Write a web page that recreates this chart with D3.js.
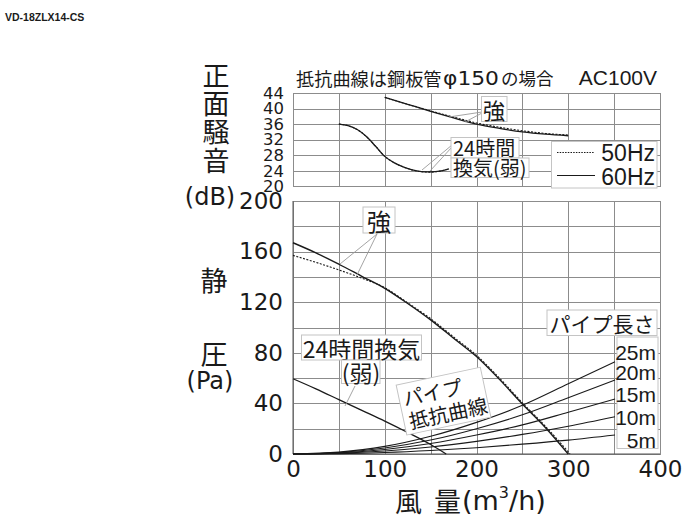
<!DOCTYPE html>
<html><head><meta charset="utf-8">
<script src="https://cdn.jsdelivr.net/npm/d3@7"></script>
<style>
body{margin:0;background:#fff;}
svg{display:block;}
</style></head><body>
<svg id="c" width="700" height="521"></svg>
<script>
// ---------- data ----------
const flowGrid = [0,50,100,150,200,250,300,350,400];
const flowLabels = [0,100,200,300,400];
const pressureGrid = [0,20,40,60,80,100,120,140,160,180,200];
const pressureLabels = [0,40,80,120,160,200];
const noiseTicks = [20,24,28,32,36,40,44];

// static pressure (Pa) vs flow (m3/h)
const strong60Q = [0,25,50,75,100,125,150,175,200,225,250,275,300];
const strong60P = [167,159,150,140.5,131,119,106,91.5,77,59,39.5,21,0];
const strong50Q = [0,25,50,75,100,125,150,175,200,225,250,275,302];
const strong50P = [157,151.5,145.5,139,131.5,119.5,107,92.5,78,60,40.5,22,0];
const weakQ = [0,25,50,75,100,125,150,167];
const weakP = [59.5,51.5,43,34.5,26,17,7.5,0];

// pipe resistance curves
const pipeQ = [0,50,100,150,200,250,300,351];
const pipe25 = [0,1.5,6,14,25,38.5,55.5,73];
const pipe20 = [0,1.2,4.8,11,20,31,44.5,58.5];
const pipe15 = [0,0.9,3.6,8.3,15,23,33,43.5];
const pipe10 = [0,0.6,2.4,5.5,10,15.5,22,29.5];
const pipe5  = [0,0.3,1.2,2.8,5,7.8,11,15];
const pipeNames = ["25m","20m","15m","10m","5m"];

// noise (dB) vs flow
const nStrongQ = [100,125,150,175,200,225,250,275,300];
const nStrong60 = [42.9,41.1,39.3,37.6,36.0,34.9,34.0,33.4,33.0];
const nStrong50 = [42.9,41.1,39.4,37.8,36.3,35.2,34.3,33.6,33.2];
const nWeakQ = [50,60,70,80,90,100,110,120,130,140,150,160,170];
const nWeak60 = [36,35.6,34.6,32.8,30.3,27.7,26.1,25,24.2,23.8,23.7,23.9,24.5];
const nWeak50 = [36,35.6,34.6,32.8,30.3,27.7,26.1,25,24.2,23.75,23.65,23.9,24.5];

// ---------- drawing ----------
const JP = "'Noto Sans CJK JP', sans-serif";
const NUM = "'DejaVu Sans', sans-serif";
const LIB = "'Liberation Sans', Arial, sans-serif";
const GRID = "#8c8c8c";
const INK = "#1a1a1a";

const svg = d3.select("#c");
const x = d3.scaleLinear().domain([0,400]).range([293,660]);
const yP = d3.scaleLinear().domain([0,200]).range([454,201]);
const yN = d3.scaleLinear().domain([20,44]).range([186.3,93]);

function styleAxis(g, size){
  g.attr("font-family",NUM).attr("font-size",size||22);
  g.select(".domain").remove();
  g.selectAll(".tick line").attr("stroke",GRID).attr("stroke-width",1).attr("shape-rendering","crispEdges");
  g.selectAll(".tick text").attr("fill",INK);
}

// main chart grid + axes
svg.append("g").attr("transform",`translate(0,${yP(0)})`)
  .call(d3.axisBottom(x).tickValues(flowGrid).tickSize(-(yP(0)-yP(200))).tickPadding(7)
    .tickFormat(d=>flowLabels.includes(d)?d:""))
  .call(g=>styleAxis(g,23));
svg.append("g").attr("transform",`translate(${x(0)},0)`)
  .call(d3.axisLeft(yP).tickValues(pressureGrid).tickSize(-(x(400)-x(0))).tickPadding(10)
    .tickFormat(d=>pressureLabels.includes(d)?d:""))
  .call(g=>styleAxis(g,23));
svg.append("rect").attr("x",x(0)).attr("y",yP(200)).attr("width",x(400)-x(0)).attr("height",yP(0)-yP(200))
  .attr("fill","none").attr("stroke",GRID).attr("shape-rendering","crispEdges");
svg.append("line").attr("x1",x(0)).attr("x2",x(400)).attr("y1",yP(0)).attr("y2",yP(0)).attr("stroke","#555");
svg.append("line").attr("x1",x(0)).attr("x2",x(0)).attr("y1",yP(0)).attr("y2",yP(200)).attr("stroke","#555");

// top chart grid + axes
svg.append("g").attr("transform",`translate(0,${yN(20)})`)
  .call(d3.axisBottom(x).tickValues(flowGrid).tickSize(-(yN(20)-yN(44))).tickFormat(""))
  .call(g=>styleAxis(g,10));
svg.append("g").attr("transform",`translate(${x(0)},0)`)
  .call(d3.axisLeft(yN).tickValues(noiseTicks).tickSize(-(x(400)-x(0))).tickPadding(9))
  .call(g=>styleAxis(g,16.5));
svg.append("rect").attr("x",x(0)).attr("y",yN(44)).attr("width",x(400)-x(0)).attr("height",yN(20)-yN(44))
  .attr("fill","none").attr("stroke",GRID).attr("shape-rendering","crispEdges");

// line generators
const lineP = d3.line().x(d=>x(d[0])).y(d=>yP(d[1])).curve(d3.curveMonotoneX);
const lineN = d3.line().x(d=>x(d[0])).y(d=>yN(d[1])).curve(d3.curveMonotoneX);

function path(data, gen, dashed, w){
  svg.append("path").attr("d",gen(data)).attr("fill","none").attr("stroke",INK)
    .attr("stroke-width",w||1.3).attr("stroke-dasharray",dashed?"2,1.5":null);
}

// pipe curves
[pipe25,pipe20,pipe15,pipe10,pipe5].forEach(p=>path(d3.zip(pipeQ,p),lineP,false,1.1));
// fan curves
path(d3.zip(strong50Q,strong50P),lineP,true,1.1);
path(d3.zip(strong60Q,strong60P),lineP,false,1.4);
path(d3.zip(weakQ,weakP),lineP,false,1.3);

// noise curves
path(d3.zip(nStrongQ,nStrong50),lineN,true,1.1);
path(d3.zip(nStrongQ,nStrong60),lineN,false,1.3);
path(d3.zip(nWeakQ,nWeak50),lineN,true,1.1);
path(d3.zip(nWeakQ,nWeak60),lineN,false,1.3);

// helpers
function box(g,x0,y0,x1,y1){
  return g.append("rect").attr("x",x0).attr("y",y0).attr("width",x1-x0).attr("height",y1-y0)
    .attr("fill","#fff").attr("stroke","#c4c4c4").attr("stroke-width",1);
}
function txt(g,t,xx,yy,size,fam,anchor){
  return g.append("text").attr("x",xx).attr("y",yy).attr("font-size",size).attr("font-family",fam||JP)
    .attr("fill",INK).attr("text-anchor",anchor||"start").attr("dominant-baseline","central").text(t);
}
function lead(x1,y1,x2,y2){
  svg.append("line").attr("x1",x1).attr("y1",y1).attr("x2",x2).attr("y2",y2)
    .attr("stroke","#9a9a9a").attr("stroke-width",0.9);
}

// leader lines
lead(377,234,340,264); lead(377,234,357,275);
lead(355,386,345,406);
lead(482,112,449,117); lead(482,113,465,122);
lead(452,145,422,170); lead(452,147,430,171);

// main annotations
box(svg,363,207,395,233); txt(svg,"強",379,220,24,JP,"middle");
box(svg,301.5,335,421.5,360); txt(svg,"24時間換気",361.5,347.5,23,JP,"middle");
box(svg,341.5,360,380,383.5); txt(svg,"(弱)",361,371.5,23,JP,"middle");

const gr = svg.append("g").attr("transform","translate(403,398) rotate(-12)");
box(gr,-4,-14,82,37);
txt(gr,"パイプ",0,0,20);
txt(gr,"抵抗曲線",1,23.5,20);

box(svg,547,310,657,335.5); txt(svg,"パイプ長さ",602,322.5,21,JP,"middle");
box(svg,617,337,658,448.5);
const pipeLabY = [352,372,394,417,440];
pipeNames.forEach((n,i)=>txt(svg,n,656,pipeLabY[i],21,LIB,"end"));

// top annotations
box(svg,481.5,96.5,507,121.5); txt(svg,"強",494,109,22,JP,"middle");
box(svg,451,137.5,519,158); txt(svg,"24時間",453,147.5,20);
box(svg,451,158,529,177.5); txt(svg,"換気(弱)",453,167.5,20);

// legend
box(svg,551.5,141.5,657,188);
svg.append("line").attr("x1",557).attr("x2",594).attr("y1",152.5).attr("y2",152.5)
  .attr("stroke",INK).attr("stroke-width",1).attr("stroke-dasharray","1.5,1.2");
svg.append("line").attr("x1",557).attr("x2",595).attr("y1",175.5).attr("y2",175.5)
  .attr("stroke",INK).attr("stroke-width",1.2);
txt(svg,"50Hz",655,153,23,LIB,"end");
txt(svg,"60Hz",655,176.5,23,LIB,"end");

// titles
svg.append("text").attr("x",5).attr("y",21).attr("font-family",LIB).attr("font-weight","bold")
  .attr("font-size",10.5).attr("fill",INK).text("VD-18ZLX14-CS");
txt(svg,"抵抗曲線は鋼板管",296,77.5,18.2);
txt(svg,"φ150",443,77.5,20,NUM).attr("textLength",56).attr("lengthAdjust","spacingAndGlyphs");
txt(svg,"の場合",501,77.5,17.5);
txt(svg,"AC100V",657,77.5,21,LIB,"end");

// y titles
svg.append("text").attr("x",216).attr("y",62).attr("font-family",JP).attr("font-size",27)
  .attr("fill",INK).attr("writing-mode","vertical-rl").attr("letter-spacing",1.3).text("正面騒音");
txt(svg,"(dB)",210,196.5,24,NUM,"middle");
txt(svg,"静",214,279,27,JP,"middle");
txt(svg,"圧",214,353,27,JP,"middle");
txt(svg,"(Pa)",210,381,24,NUM,"middle");

// x title
const xt = svg.append("text").attr("x",395).attr("y",500).attr("dominant-baseline","central")
  .attr("fill",INK).attr("font-size",27);
xt.append("tspan").attr("font-family",JP).text("風");
xt.append("tspan").attr("font-family",JP).attr("x",434).text("量");
xt.append("tspan").attr("font-family",NUM).attr("x",462).text("(m");
xt.append("tspan").attr("font-family",NUM).attr("font-size",16).attr("dy",-8).text("3");
xt.append("tspan").attr("font-family",NUM).attr("dy",8).text("/h)");
</script>
</body></html>
